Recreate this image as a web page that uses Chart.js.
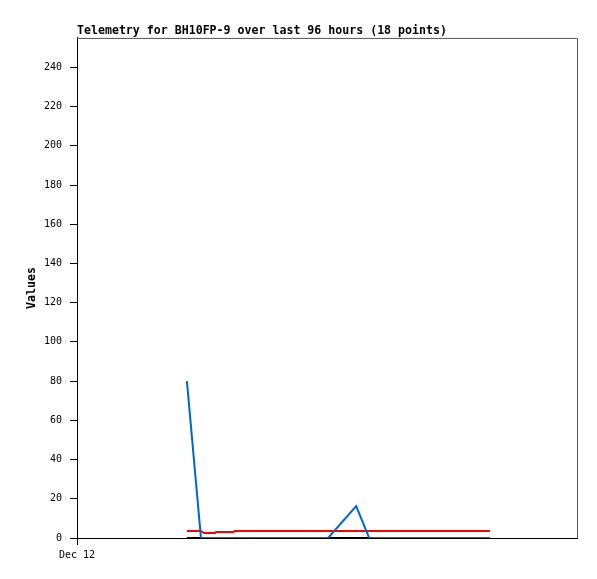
<!DOCTYPE html>
<html>
<head>
<meta charset="utf-8">
<script src="https://cdn.jsdelivr.net/npm/chart.js@4/dist/chart.umd.min.js"></script>
<style>
  html, body { margin: 0; padding: 0; background: #fff; }
</style>
</head>
<body>
<canvas id="chart" width="597" height="579"></canvas>
<script>
// hours since Dec 12 00:00
let hours = [21.1, 23.8, 24.4, 26.5, 26.7, 30.1, 30.3, 37.0, 42.8, 48.2, 53.6, 56.1, 60.1, 63.9, 67.8, 71.6, 75.5, 79.3]
let blueVals = [80, 0, 0, 0, 0, 0, 0, 0, 0, 0, 16.3, 0, 0, 0, 0, 0, 0, 0]
let redVals = [3.6, 3.6, 2.5, 2.5, 3.0, 3.0, 3.6, 3.6, 3.6, 3.6, 3.6, 3.6, 3.6, 3.6, 3.6, 3.6, 3.6, 3.6]
let blackVals = [0, 0, 0, 0, 0, 0, 0, 0, 0, 0, 0, 0, 0, 0, 0, 0, 0, 0]
let xTickLabels = ['Dec 12']
let titleText = 'Telemetry for BH10FP-9 over last 96 hours (18 points)'

const mono = 'DejaVu Sans Mono'

function pts(vals) {
    return vals.map((v, i) => ({x: hours[i], y: v}))
}

// gray top/right, black left/bottom
const frame = {
    id: 'frame',
    beforeDatasetsDraw(chart) {
        const {ctx, chartArea: a} = chart
        ctx.save()
        ctx.lineWidth = 1
        ctx.strokeStyle = '#555'
        ctx.beginPath()
        ctx.moveTo(a.left, a.top + 0.5)
        ctx.lineTo(a.right + 0.5, a.top + 0.5)
        ctx.lineTo(a.right + 0.5, a.bottom)
        ctx.stroke()
        ctx.restore()
    }
}

new Chart(document.getElementById('chart').getContext('2d'), {
    type: 'line',
    data: {
        datasets: [
            {data: pts(blueVals), borderColor: '#0066cc', order: 1},
            {data: pts(redVals), borderColor: '#ff0000', order: 2},
            {data: pts(blackVals), borderColor: '#000000', order: 3},
        ],
    },
    options: {
        responsive: false,
        animation: false,
        devicePixelRatio: 1,
        layout: {padding: {left: 0, right: 20, top: 0, bottom: 0}},
        elements: {
            line: {borderWidth: 2, tension: 0, fill: false},
            point: {radius: 0, hoverRadius: 0},
        },
        plugins: {
            legend: {display: false},
            tooltip: {enabled: false},
            title: {
                display: true,
                text: titleText,
                align: 'start',
                fullSize: false,
                color: '#000',
                font: {family: mono, size: 11.6, weight: 'bold'},
                padding: {top: 24, bottom: 0},
            },
        },
        scales: {
            x: {
                type: 'linear',
                min: 0,
                max: 96,
                afterBuildTicks: s => { s.ticks = [{value: 0}] },
                afterFit: s => { s.height = 41 },
                ticks: {
                    callback: (v, i) => xTickLabels[i],
                    color: '#000',
                    font: {family: mono, size: 10},
                    padding: 4,
                    maxRotation: 0,
                    autoSkip: false,
                },
                grid: {drawOnChartArea: false, tickLength: 7, color: '#000'},
                border: {color: '#000', width: 1},
            },
            y: {
                min: 0,
                max: 255,
                afterFit: s => { s.width = 77 },
                ticks: {
                    stepSize: 20,
                    includeBounds: false,
                    color: '#000',
                    font: {family: mono, size: 10},
                    padding: 8,
                },
                grid: {drawOnChartArea: false, tickLength: 7, color: '#000'},
                border: {color: '#000', width: 1},
                title: {
                    display: true,
                    text: 'Values',
                    color: '#000',
                    font: {family: mono, size: 11.6, weight: 'bold'},
                    padding: {top: 25, bottom: 0},
                },
            },
        },
    },
    plugins: [frame],
});
</script>
</body>
</html>
